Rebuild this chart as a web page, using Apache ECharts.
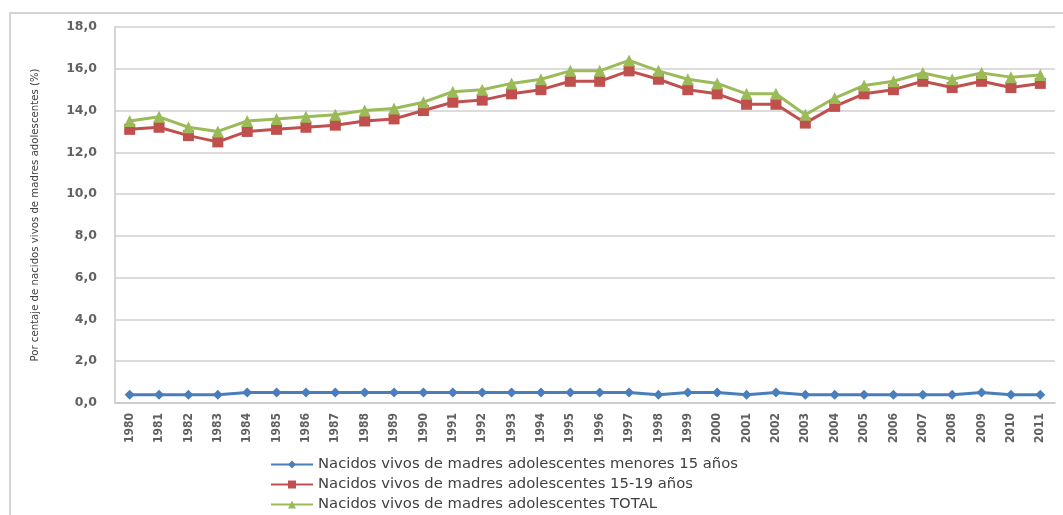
<!DOCTYPE html>
<html>
<head>
<meta charset="utf-8">
<script src="https://cdn.jsdelivr.net/npm/echarts@6/dist/echarts.min.js"></script>
<style>
  html, body { margin: 0; padding: 0; background: #fff; }
  #chart { width: 1063px; height: 515px; }
</style>
</head>
<body>
<div id="chart"></div>
<script>
// Years on the category axis
const years = ['1980','1981','1982','1983','1984','1985','1986','1987','1988','1989',
  '1990','1991','1992','1993','1994','1995','1996','1997','1998','1999',
  '2000','2001','2002','2003','2004','2005','2006','2007','2008','2009',
  '2010','2011'];

// Percentage of live births by mother's age group
const menores15 = [0.4,0.4,0.4,0.4,0.5,0.5,0.5,0.5,0.5,0.5,
  0.5,0.5,0.5,0.5,0.5,0.5,0.5,0.5,0.4,0.5,
  0.5,0.4,0.5,0.4,0.4,0.4,0.4,0.4,0.4,0.5,
  0.4,0.4];
const de15a19 = [13.1,13.2,12.8,12.5,13.0,13.1,13.2,13.3,13.5,13.6,
  14.0,14.4,14.5,14.8,15.0,15.4,15.4,15.9,15.5,15.0,
  14.8,14.3,14.3,13.4,14.2,14.8,15.0,15.4,15.1,15.4,
  15.1,15.3];
const total = [13.5,13.7,13.2,13.0,13.5,13.6,13.7,13.8,14.0,14.1,
  14.4,14.9,15.0,15.3,15.5,15.9,15.9,16.4,15.9,15.5,
  15.3,14.8,14.8,13.8,14.6,15.2,15.4,15.8,15.5,15.8,
  15.6,15.7];

const seriesNames = [
  'Nacidos vivos de madres adolescentes menores 15 años',
  'Nacidos vivos de madres adolescentes 15-19 años',
  'Nacidos vivos de madres adolescentes TOTAL'
];

const chart = echarts.init(document.getElementById('chart'));

const lineSeries = (name, data, color, symbol, size) => ({
  name, type: 'line', data,
  symbol, symbolSize: size,
  lineStyle: { color, width: 3 },
  itemStyle: { color },
  emphasis: { disabled: true },
  animation: false
});

// one legend row per series, stacked under the plot
const legendRow = (name, top) => ({
  orient: 'horizontal',
  left: 265, top, padding: 5,
  itemWidth: 42, itemHeight: 10, itemGap: 0,
  textStyle: { fontFamily: 'DejaVu Sans', fontSize: 14.8, color: '#404040' },
  data: [name]
});

chart.setOption({
  animation: false,
  graphic: [{
    type: 'rect',
    shape: { x: 10, y: 13, width: 1070, height: 530 },
    style: { fill: 'none', stroke: '#d4d4d4', lineWidth: 2 },
    silent: true
  }],
  grid: { left: 115, right: 8, top: 27, bottom: 112, containLabel: false },
  legend: [
    legendRow(seriesNames[0], 452),
    legendRow(seriesNames[1], 472),
    legendRow(seriesNames[2], 492)
  ],
  xAxis: {
    type: 'category',
    data: years,
    boundaryGap: true,
    axisLine: { lineStyle: { color: '#c8c8c8', width: 1.5 } },
    axisTick: { show: false },
    axisLabel: {
      rotate: 90, interval: 0, margin: 10,
      fontFamily: 'DejaVu Sans Condensed, sans-serif',
      fontSize: 12, fontWeight: 'bold', color: '#606060'
    }
  },
  yAxis: {
    type: 'value',
    min: 0, max: 18, interval: 2,
    name: 'Por centaje de nacidos vivos de madres adolescentes (%)',
    nameLocation: 'middle', nameGap: 74,
    nameTextStyle: {
      fontFamily: 'DejaVu Sans Condensed, sans-serif',
      fontSize: 11.3, color: '#404040'
    },
    axisLine: { show: true, lineStyle: { color: '#c8c8c8', width: 1.5 } },
    axisTick: { show: false },
    splitLine: { lineStyle: { color: '#d0d0d0', width: 1.5 } },
    axisLabel: {
      margin: 18,
      formatter: v => v.toFixed(1).replace('.', ','),
      fontFamily: 'DejaVu Sans', fontSize: 12.5, fontWeight: 'bold', color: '#626262'
    }
  },
  series: [
    lineSeries(seriesNames[0], menores15, '#4a7ebb', 'diamond', 10),
    lineSeries(seriesNames[1], de15a19, '#c0504d', 'rect', 11),
    lineSeries(seriesNames[2], total, '#9bbb59', 'triangle', 12)
  ]
});
</script>
</body>
</html>
